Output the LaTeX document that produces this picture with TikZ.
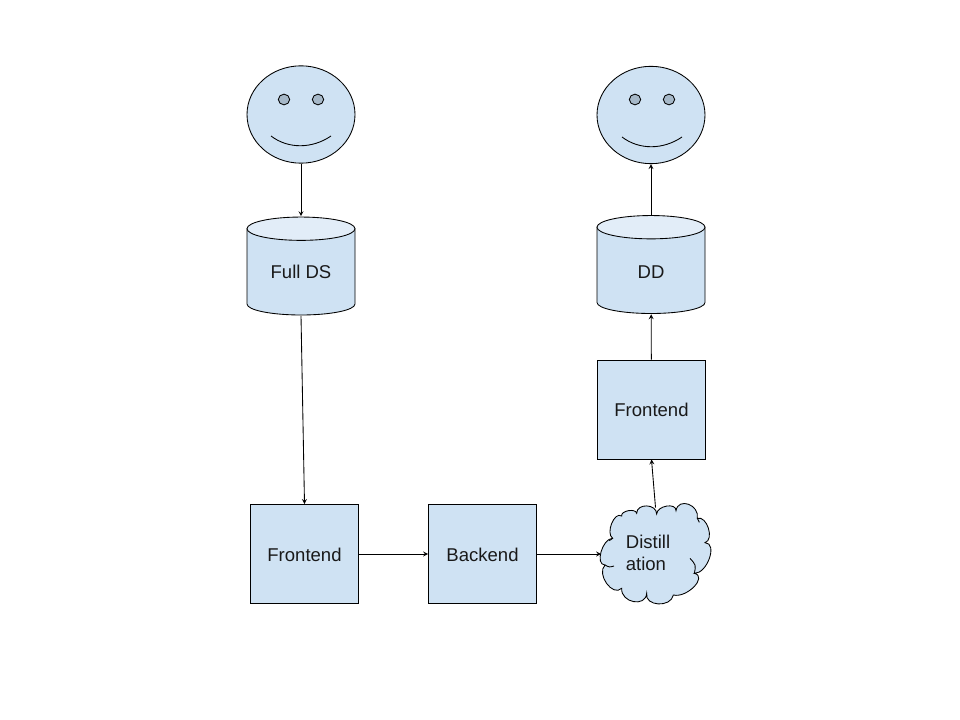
\documentclass[tikz,border=0pt]{standalone}
\usepackage{fontspec}
\setmainfont{Liberation Sans}
\usetikzlibrary{shapes.geometric}

\definecolor{boxblue}{HTML}{CFE2F3}
\definecolor{lidblue}{HTML}{E2EDF8}
\definecolor{eyegray}{HTML}{A6B8C8}

\tikzset{
    labeled/.style={font=\fontsize{13.9pt}{16.5pt}\selectfont,text=black!90,text height=11.2pt,text depth=0pt},
    blockbox/.style={draw,fill=boxblue,rectangle,labeled,minimum width=81pt,minimum height=74.25pt,inner sep=0pt},
    face/.style={draw,fill=boxblue,ellipse,minimum width=81pt,minimum height=73pt,inner sep=0pt},
    eye/.style={draw,fill=eyegray,ellipse,minimum width=8.5pt,minimum height=8pt,inner sep=0pt},
    store/.style={labeled,text height=18.7pt,rectangle,minimum width=81pt,minimum height=74pt,inner sep=0pt},
    puffy/.style={rectangle,minimum width=81pt,minimum height=69pt,inner sep=0pt},
}

% node options, name, centre x, top y, text
\newcommand{\drawstore}[5][]{
    \draw[fill=boxblue] (#3-54, #4+11.7) -- (#3-54, #4+87)
        arc[start angle=180,end angle=360,x radius=40.5pt,y radius=8.25pt]
        -- (#3+54, #4+11.7) -- cycle;
    \draw[fill=lidblue] (#3, #4+11.7) ellipse[x radius=40.5pt,y radius=8.75pt];
    \node[store,#1] (#2) at (#3, #4+49) {#5};
}

\begin{document}
\begin{tikzpicture}[x=0.75pt,y=-0.75pt,>=stealth,line width=0.65pt]
        \useasboundingbox (0,0) rectangle (960,720);

        \node[face] (FaceL) at (301, 114.5) {};
        \node[eye] (EyeLa) at (284, 99.5) {};
        \node[eye] (EyeLb) at (318, 99.5) {};
        \coordinate (MouthLa) at (271, 136);
        \coordinate (MouthLb) at (331, 136);
        \draw (MouthLa) .. controls (288, 149) and (312, 149) .. (MouthLb);

        \node[face] (FaceR) at (651, 115) {};
        \node[eye] (EyeRa) at (635, 99.5) {};
        \node[eye] (EyeRb) at (669, 99.5) {};
        \coordinate (MouthRa) at (622, 137);
        \coordinate (MouthRb) at (682, 137);
        \draw (MouthRa) .. controls (639, 150) and (663, 150) .. (MouthRb);

        \drawstore{FullDS}{301}{217}{Full DS}
        \drawstore[text height=20.7pt]{DD}{651}{215.5}{DD}

        \node[blockbox] (FrontA) at (304.5, 554) {Frontend};
        \node[blockbox] (BackA) at (482.5, 554) {Backend};
        \node[blockbox] (FrontB) at (651.5, 409.5) {Frontend};

        % cloud outline, in units of a third of a pixel
        \begin{scope}[shift={(590,490)},x=0.25pt,y=-0.25pt]
            \draw[fill=boxblue] (200,72) .. controls (201,47) and (259,37) .. (258,62)
                .. controls (265,21) and (329,44) .. (322,85)
                .. controls (351,76) and (374,149) .. (345,158)
                .. controls (384,159) and (352,251) .. (313,250)
                .. controls (354,260) and (291,325) .. (250,315)
                .. controls (243,354) and (163,349) .. (170,310)
                .. controls (167,353) and (92,338) .. (95,295)
                .. controls (68,322) and (18,252) .. (45,225)
                .. controls (14,225) and (37,145) .. (68,145)
                .. controls (46,130) and (73,63) .. (95,78)
                .. controls (92,62) and (137,54) .. (140,70)
                .. controls (140,39) and (200,41) .. cycle;
            \draw (313,250) .. controls (318,225) .. (300,205);
            \draw (45,225) .. controls (58,232) .. (72,228);
            \draw (68,145) .. controls (62,148) .. (58,152);
            \draw (322,85) .. controls (326,90) .. (328,97);
        \end{scope}
        \node[puffy] (Distill) at (655.5, 554) {};
        \node[labeled,align=left] (DistillText) at (648, 563) {Distill\\ation};

        \draw[->] (FaceL) -- (FullDS);
        \draw[->] (FullDS.south) -- (FrontA.north);
        \draw[->] (FrontA) -- (BackA);
        \draw[->] (BackA) -- (Distill);
        \draw[->] (Distill.north) -- (FrontB.south);
        \draw[->] (FrontB) -- (DD);
        \draw[->] (DD) -- (FaceR);
    \end{tikzpicture}
\end{document}
